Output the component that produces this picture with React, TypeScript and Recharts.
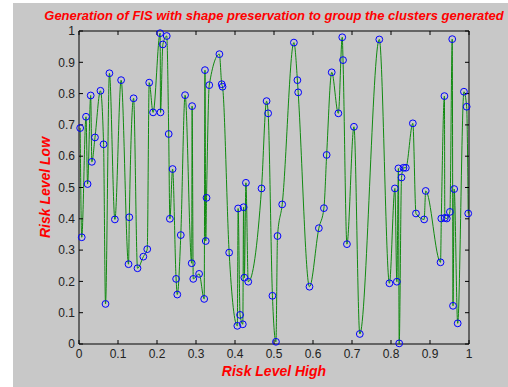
import React from 'react';
import { ComposedChart, Line, Scatter, XAxis, YAxis } from 'recharts';

const riskHigh: number[] = [
  0.003, 0.007, 0.018, 0.022, 0.030, 0.033, 0.041, 0.055, 0.063, 0.068,
  0.078, 0.092, 0.108, 0.127, 0.129, 0.140, 0.150, 0.165, 0.175, 0.180,
  0.190, 0.208, 0.209, 0.215, 0.225, 0.230, 0.233, 0.240, 0.249, 0.252,
  0.261, 0.272, 0.289, 0.290, 0.293, 0.308, 0.321, 0.323, 0.325, 0.327,
  0.334, 0.360, 0.366, 0.368, 0.385, 0.406, 0.408, 0.413, 0.420, 0.422,
  0.424, 0.428, 0.434, 0.468, 0.481, 0.485, 0.496, 0.505, 0.509, 0.521,
  0.551, 0.560, 0.562, 0.591, 0.615, 0.628, 0.635, 0.648, 0.665, 0.675,
  0.677, 0.687, 0.705, 0.720, 0.770, 0.796, 0.810, 0.815, 0.819, 0.821,
  0.827, 0.832, 0.838, 0.856, 0.864, 0.885, 0.889, 0.927, 0.929, 0.937,
  0.938, 0.943, 0.951, 0.957, 0.959, 0.962, 0.971, 0.987, 0.994, 0.998,
];

const riskLow: number[] = [
  0.690, 0.341, 0.726, 0.511, 0.794, 0.582, 0.660, 0.809, 0.638, 0.128,
  0.865, 0.398, 0.843, 0.255, 0.405, 0.785, 0.242, 0.279, 0.303, 0.835,
  0.740, 0.993, 0.740, 0.957, 0.984, 0.671, 0.400, 0.559, 0.208, 0.158,
  0.348, 0.795, 0.258, 0.760, 0.208, 0.224, 0.144, 0.875, 0.329, 0.467,
  0.827, 0.926, 0.830, 0.822, 0.292, 0.058, 0.433, 0.093, 0.063, 0.437,
  0.212, 0.515, 0.199, 0.497, 0.776, 0.737, 0.154, 0.007, 0.345, 0.446,
  0.963, 0.843, 0.804, 0.183, 0.370, 0.434, 0.604, 0.868, 0.737, 0.980,
  0.907, 0.319, 0.694, 0.032, 0.973, 0.194, 0.497, 0.199, 0.561, 0.002,
  0.532, 0.563, 0.563, 0.705, 0.417, 0.398, 0.489, 0.261, 0.401, 0.792,
  0.403, 0.401, 0.422, 0.974, 0.122, 0.495, 0.066, 0.806, 0.758, 0.417,
];

const tickValues: number[] = [0, 0.1, 0.2, 0.3, 0.4, 0.5, 0.6, 0.7, 0.8, 0.9, 1];
const tickLabels: string[] = ['0', '0.1', '0.2', '0.3', '0.4', '0.5', '0.6', '0.7', '0.8', '0.9', '1'];

const titleText = 'Generation of FIS with shape preservation to group the clusters generated';
const xLabelText = 'Risk Level High';
const yLabelText = 'Risk Level Low';

const data = riskHigh.map((x, i) => ({ x, y: riskLow[i] }));

const fmt = (v: number) => {
  const i = tickValues.findIndex((t) => Math.abs(t - v) < 1e-9);
  return i >= 0 ? tickLabels[i] : String(v);
};

const EmptyTick = () => <g />;

const CircleShape = (props: any) => {
  const { cx, cy } = props;
  if (cx == null || cy == null) return <g />;
  return <circle cx={cx} cy={cy} r={3.4} fill="none" stroke="#0000ff" strokeWidth={1} />;
};

const font = '"Liberation Sans", Arial, sans-serif';
const tickStyle = { fontSize: 12, fill: '#222', fontFamily: font };

export default function App() {
  return (
    <div
      style={{
        position: 'absolute',
        left: 13,
        top: 3,
        width: 495,
        height: 384,
        background: '#c8c8c8',
        overflow: 'hidden',
        fontFamily: font,
      }}
    >
      <ComposedChart
        width={495}
        height={384}
        data={data}
        margin={{ top: 27, right: 38, bottom: 13, left: 26 }}
        style={{ position: 'absolute', left: 0, top: 0 }}
      >
        <XAxis
          dataKey="x"
          type="number"
          domain={[0, 1]}
          ticks={tickValues}
          tickFormatter={fmt}
          interval={0}
          height={30}
          tickSize={-4}
          tickMargin={9}
          stroke="#000"
          tick={tickStyle}
          axisLine={{ stroke: '#000' }}
          tickLine={{ stroke: '#000' }}
        />
        <XAxis
          xAxisId="top"
          orientation="top"
          dataKey="x"
          type="number"
          domain={[0, 1]}
          ticks={tickValues}
          interval={0}
          height={1}
          tickSize={-4}
          tick={EmptyTick}
          axisLine={{ stroke: '#000' }}
          tickLine={{ stroke: '#000' }}
        />
        <YAxis
          dataKey="y"
          type="number"
          domain={[0, 1]}
          ticks={tickValues}
          tickFormatter={fmt}
          interval={0}
          width={40}
          tickSize={-4}
          tickMargin={8}
          tick={tickStyle}
          axisLine={{ stroke: '#000' }}
          tickLine={{ stroke: '#000' }}
        />
        <YAxis
          yAxisId="right"
          orientation="right"
          dataKey="y"
          type="number"
          domain={[0, 1]}
          ticks={tickValues}
          interval={0}
          width={1}
          tickSize={-4}
          tick={EmptyTick}
          axisLine={{ stroke: '#000' }}
          tickLine={{ stroke: '#000' }}
        />
        <Line
          dataKey="y"
          type="monotone"
          stroke="#108a10"
          strokeWidth={1}
          dot={false}
          activeDot={false}
          isAnimationActive={false}
        />
        <Scatter dataKey="y" shape={CircleShape} isAnimationActive={false} />
      </ComposedChart>
      <div
        style={{
          position: 'absolute',
          left: 11,
          width: 500,
          top: 5,
          height: 16,
          lineHeight: '16px',
          textAlign: 'center',
          whiteSpace: 'nowrap',
          color: '#ff0000',
          fontWeight: 'bold',
          fontStyle: 'italic',
          fontSize: 13,
        }}
      >
        {titleText}
      </div>
      <div
        style={{
          position: 'absolute',
          left: 161,
          width: 200,
          top: 360,
          height: 17,
          lineHeight: '17px',
          textAlign: 'center',
          whiteSpace: 'nowrap',
          color: '#ff0000',
          fontWeight: 'bold',
          fontStyle: 'italic',
          fontSize: 14,
        }}
      >
        {xLabelText}
      </div>
      <div
        style={{
          position: 'absolute',
          left: -68,
          width: 200,
          top: 176,
          height: 17,
          lineHeight: '17px',
          textAlign: 'center',
          whiteSpace: 'nowrap',
          color: '#ff0000',
          fontWeight: 'bold',
          fontStyle: 'italic',
          fontSize: 14,
          transform: 'rotate(-90deg)',
        }}
      >
        {yLabelText}
      </div>
    </div>
  );
}
